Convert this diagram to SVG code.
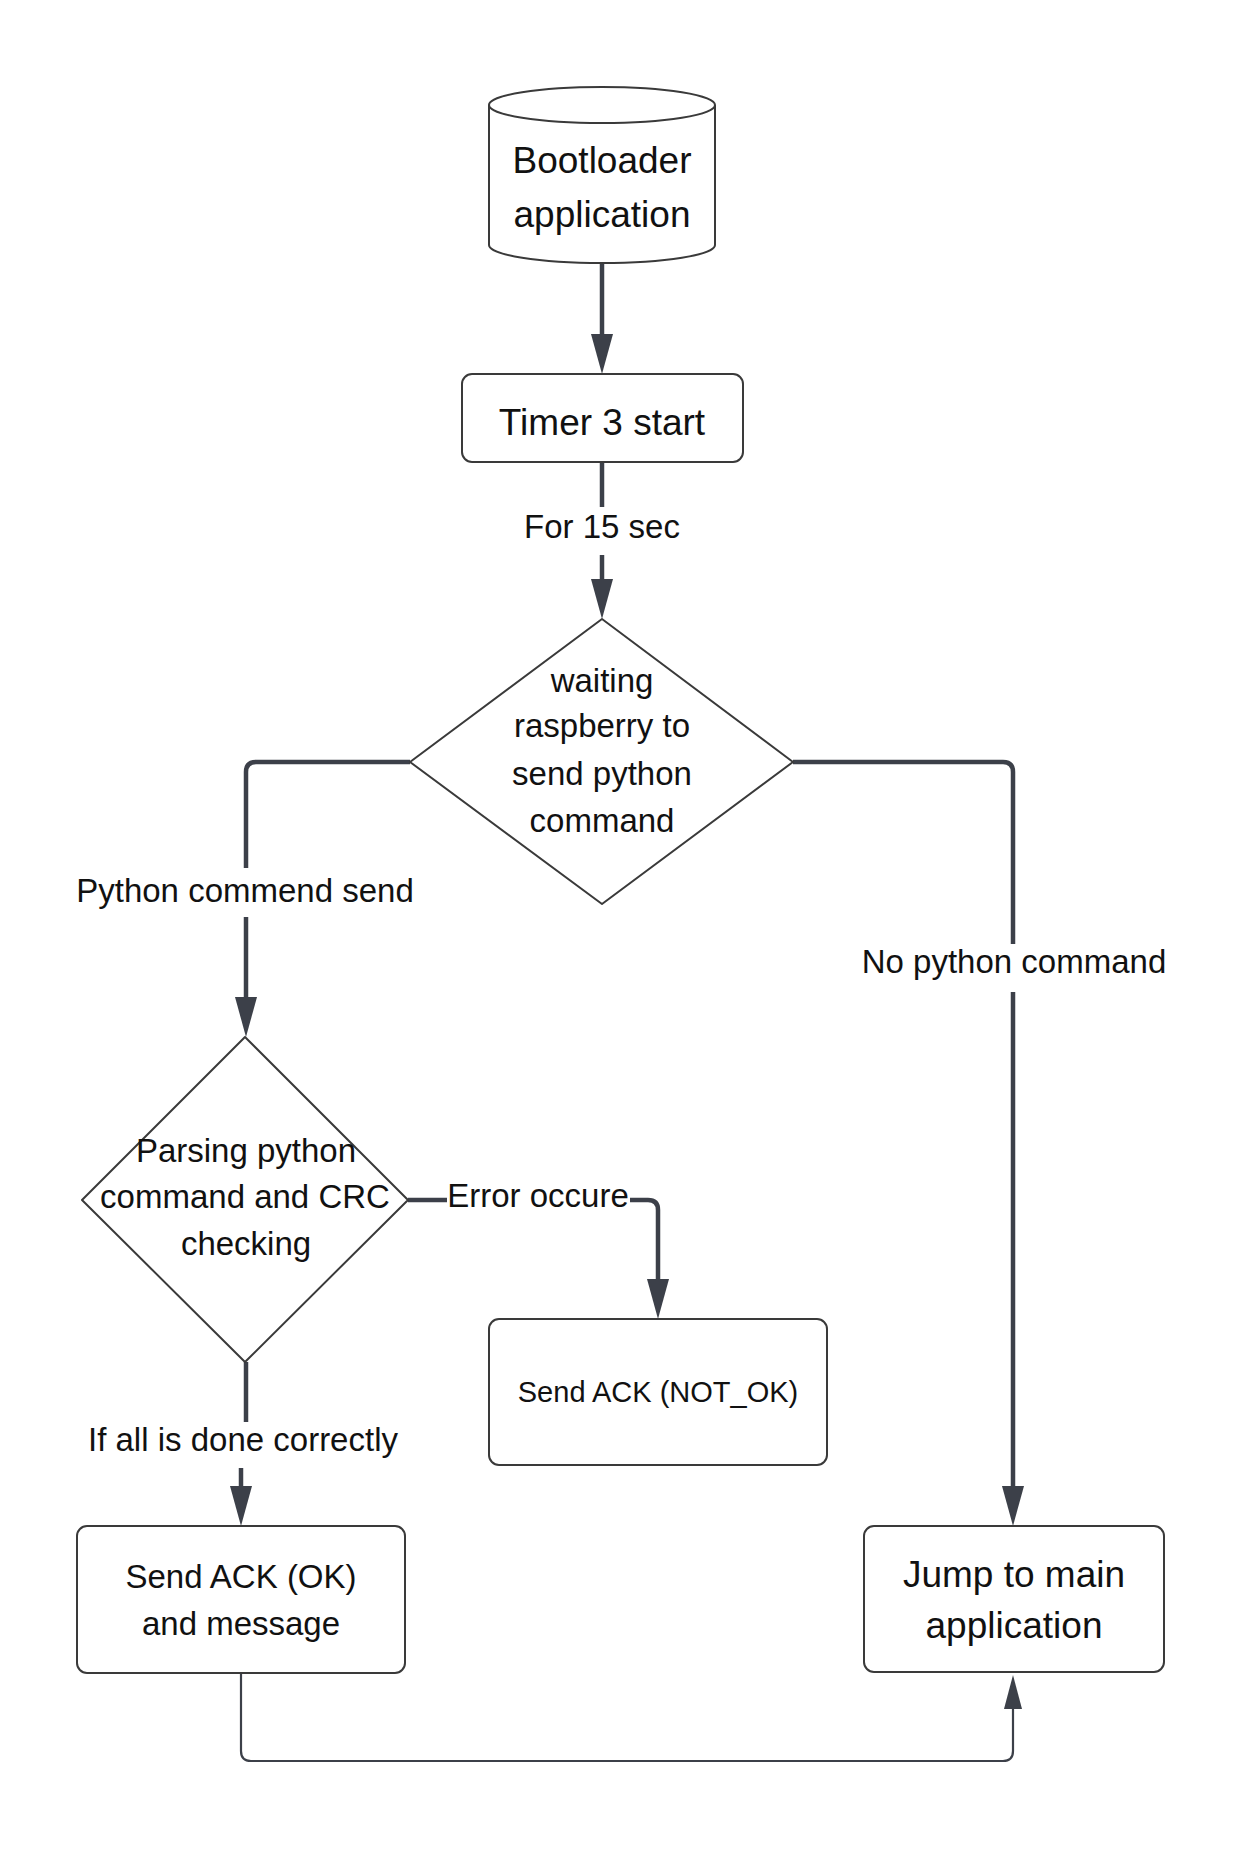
<svg xmlns="http://www.w3.org/2000/svg" width="1243" height="1849" viewBox="0 0 1243 1849">
<defs>
<style>
.node{fill:#ffffff;stroke:#3a3a3a;stroke-width:2;stroke-linejoin:round}
.con{fill:none;stroke:#3c4049;stroke-width:4.5;stroke-linejoin:round}
.thin{fill:none;stroke:#3c4049;stroke-width:2.2;stroke-linejoin:round}
text{font-family:"Liberation Sans",Arial,sans-serif;fill:#111111;text-anchor:middle}
.t37{font-size:37px}
.t33{font-size:33px}
.t29{font-size:29px}
</style>
<marker id="ah" viewBox="0 0 40 22" refX="0" refY="11" markerWidth="40" markerHeight="22" markerUnits="userSpaceOnUse" orient="auto">
<path d="M0,0 L40,11 L0,22 Z" fill="#3c4049"/>
</marker>
<marker id="ahs" viewBox="0 0 34 18" refX="0" refY="9" markerWidth="34" markerHeight="18" markerUnits="userSpaceOnUse" orient="auto">
<path d="M0,0 L34,9 L0,18 Z" fill="#3c4049"/>
</marker>
</defs>
<rect width="1243" height="1849" fill="#ffffff"/>

<g id="connectors">
<path class="con" d="M602,263 V334" marker-end="url(#ah)"/>
<path class="con" d="M602,462 V507"/>
<path class="con" d="M602,555 V579" marker-end="url(#ah)"/>
<path class="con" d="M410,762 H256 Q246,762 246,772 V868"/>
<path class="con" d="M246,917 V997" marker-end="url(#ah)"/>
<path class="con" d="M793,762 H1003 Q1013,762 1013,772 V944"/>
<path class="con" d="M1013,992 V1486" marker-end="url(#ah)"/>
<path class="con" d="M408,1200 H447"/>
<path class="con" d="M630,1200 H648 Q658,1200 658,1210 V1279" marker-end="url(#ah)"/>
<path class="con" d="M246,1362 V1422"/>
<path class="con" d="M241,1468 V1486" marker-end="url(#ah)"/>
<path class="thin" d="M241,1673 V1751 Q241,1761 251,1761 H1003 Q1013,1761 1013,1751 V1709" marker-end="url(#ahs)"/>
<text class="t33" x="602" y="538">For 15 sec</text>
<text class="t33" x="245" y="902">Python commend send</text>
<text class="t33" x="1014" y="973">No python command</text>
<text class="t33" x="538" y="1207">Error occure</text>
<text class="t33" x="243" y="1451">If all is done correctly</text>
</g>

<g id="bootloader">
<path class="node" d="M489,105 V245 A113,18 0 0 0 715,245 V105"/>
<ellipse class="node" cx="602" cy="105" rx="113" ry="18"/>
<text class="t37" x="602" y="173">Bootloader</text>
<text class="t37" x="602" y="227">application</text>
</g>

<g id="timer">
<rect class="node" x="462" y="374" width="281" height="88" rx="10"/>
<text class="t37" x="602" y="435">Timer 3 start</text>
</g>

<g id="waiting">
<path class="node" d="M602,619 L793,762 L602,904 L410,762 Z"/>
<text class="t33" x="602" y="692">waiting</text>
<text class="t33" x="602" y="737">raspberry to</text>
<text class="t33" x="602" y="785">send python</text>
<text class="t33" x="602" y="832">command</text>
</g>

<g id="parsing">
<path class="node" d="M245,1037 L408,1200 L245,1362 L82,1200 Z"/>
<text class="t33" x="246" y="1162">Parsing python</text>
<text class="t33" x="245" y="1208">command and CRC</text>
<text class="t33" x="246" y="1255">checking</text>
</g>

<g id="ack-notok">
<rect class="node" x="489" y="1319" width="338" height="146" rx="10"/>
<text class="t29" x="658" y="1402">Send ACK (NOT_OK)</text>
</g>

<g id="ack-ok">
<rect class="node" x="77" y="1526" width="328" height="147" rx="10"/>
<text class="t33" x="241" y="1588">Send ACK (OK)</text>
<text class="t33" x="241" y="1635">and message</text>
</g>

<g id="jump">
<rect class="node" x="864" y="1526" width="300" height="146" rx="10"/>
<text class="t37" x="1014" y="1587">Jump to main</text>
<text class="t37" x="1014" y="1638">application</text>
</g>
</svg>
